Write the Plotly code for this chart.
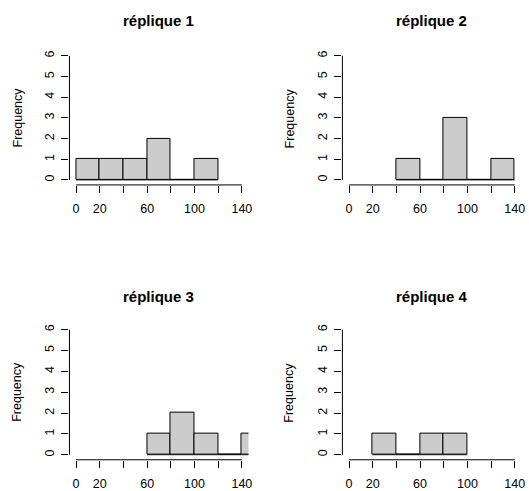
import plotly.graph_objects as go

# Histogram counts per replicate (bin width 20)
titles = ["réplique 1", "réplique 2", "réplique 3", "réplique 4"]
bin_starts = [
    [0, 20, 40, 60, 80, 100],
    [40, 60, 80, 100, 120],
    [60, 80, 100, 120, 140],
    [20, 40, 60, 80],
]
counts = [
    [1, 1, 1, 2, 0, 1],
    [1, 0, 3, 0, 1],
    [1, 2, 1, 0, 1],
    [1, 0, 1, 1],
]
bin_width = 20
x_ticks = [0, 20, 40, 60, 80, 100, 120, 140]
x_labels = ["0", "20", "", "60", "", "100", "", "140"]
y_ticks = [0, 1, 2, 3, 4, 5, 6]
y_label = "Frequency"

FONT = "Liberation Sans, Arial, Helvetica, sans-serif"
X_RANGE = [-5.6, 145.6]
Y_RANGE = [-0.24, 6.24]

x_domains = [[0.1323, 0.4733], [0.6522, 0.9932], [0.1323, 0.4733], [0.6522, 0.9932]]
y_domains = [[0.6226, 0.8961], [0.6226, 0.8961], [0.0617, 0.3375], [0.0617, 0.3375]]
title_y = [0.9572, 0.9572, 0.3957, 0.3957]
ylab_x = [0.0335, 0.5514, 0.0335, 0.5514]

fig = go.Figure()
shapes = []
annotations = []

for i in range(4):
    n = "" if i == 0 else str(i + 1)
    xa, ya = "x" + n, "y" + n
    centers = [s + bin_width / 2 for s in bin_starts[i]]
    fig.add_trace(go.Bar(
        x=centers, y=counts[i], width=bin_width,
        marker=dict(color="#cccccc", line=dict(color="black", width=1)),
        xaxis=xa, yaxis=ya, showlegend=False, hoverinfo="skip",
    ))
    # zero-count baseline across the histogram breaks
    shapes.append(dict(type="line", xref=xa, yref=ya,
                       x0=bin_starts[i][0], x1=bin_starts[i][-1] + bin_width,
                       y0=0, y1=0, line=dict(color="black", width=0.8)))
    # axis lines spanning the tick range only
    shapes.append(dict(type="line", xref=xa, yref=ya + " domain",
                       x0=x_ticks[0], x1=x_ticks[-1], y0=0, y1=0,
                       line=dict(color="black", width=1)))
    shapes.append(dict(type="line", xref=xa + " domain", yref=ya,
                       x0=0, x1=0, y0=y_ticks[0], y1=y_ticks[-1],
                       line=dict(color="black", width=1)))

    axis_common = dict(showgrid=False, zeroline=False, showline=False,
                       ticks="outside", ticklen=7, tickwidth=1, tickcolor="black",
                       tickfont=dict(family=FONT, size=12.5, color="black"))
    fig.update_layout({
        "xaxis" + n: dict(domain=x_domains[i], range=X_RANGE, anchor=ya,
                          tickmode="array", tickvals=x_ticks, ticktext=x_labels,
                          ticklabelstandoff=5, **axis_common),
        "yaxis" + n: dict(domain=y_domains[i], range=Y_RANGE, anchor=xa,
                          tickmode="array", tickvals=y_ticks, tickangle=-90,
                          ticklabelstandoff=2, **axis_common),
    })

    cx = (x_domains[i][0] + x_domains[i][1]) / 2
    cy = (y_domains[i][0] + y_domains[i][1]) / 2
    annotations.append(dict(text="<b>" + titles[i] + "</b>", xref="paper", yref="paper",
                            x=cx, y=title_y[i], xanchor="center", yanchor="middle",
                            showarrow=False, font=dict(family=FONT, size=15, color="black")))
    annotations.append(dict(text=y_label, xref="paper", yref="paper",
                            x=ylab_x[i], y=cy, xanchor="center", yanchor="middle",
                            textangle=-90, showarrow=False,
                            font=dict(family=FONT, size=12.5, color="black")))

fig.update_layout(
    width=529, height=491,
    margin=dict(l=0, r=0, t=0, b=0),
    paper_bgcolor="white", plot_bgcolor="white",
    shapes=shapes, annotations=annotations,
    bargap=0,
)

fig.write_html("out.html")
